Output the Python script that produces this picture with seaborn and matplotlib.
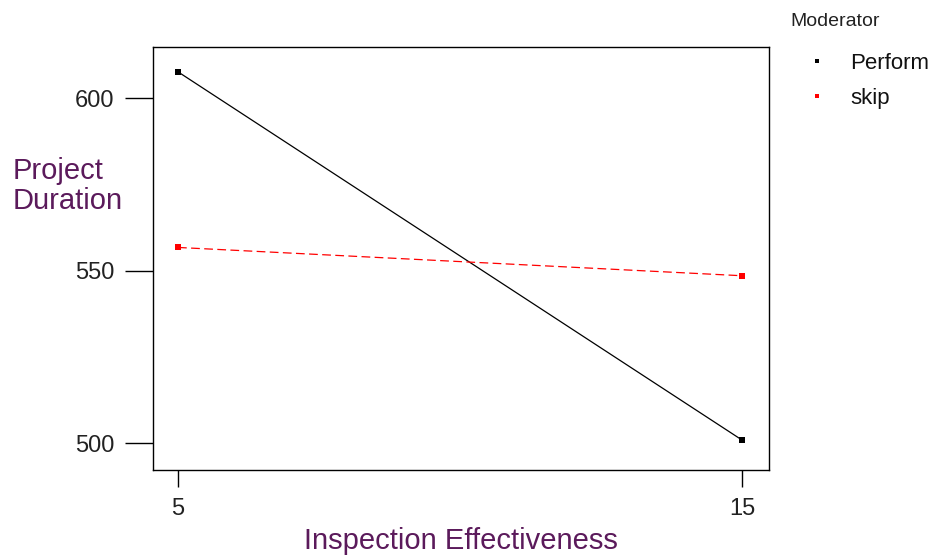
import matplotlib
matplotlib.use("Agg")
import matplotlib.pyplot as plt
import pandas as pd
import seaborn as sns
from matplotlib.lines import Line2D

# ---------------------------------------------------------------------------
# Data
# ---------------------------------------------------------------------------
effectiveness = [5, 15]
perform_duration = [607.7, 501.0]
skip_duration = [556.8, 548.6]
moderators = ["Perform", "skip"]
colors = {"Perform": "black", "skip": "red"}

df = pd.DataFrame({
    "Inspection Effectiveness": effectiveness * 2,
    "Project Duration": perform_duration + skip_duration,
    "Moderator": ["Perform"] * 2 + ["skip"] * 2,
})

sns.set_theme(style="white")
plt.rcParams["font.family"] = ["Liberation Sans", "DejaVu Sans"]

fig = plt.figure(figsize=(9.41, 5.56), dpi=100)
ax = fig.add_axes([0.1626, 0.1547, 0.6546, 0.7608])

sns.lineplot(
    data=df, x="Inspection Effectiveness", y="Project Duration",
    hue="Moderator", style="Moderator", palette=colors,
    dashes={"Perform": "", "skip": (7, 3.5)},
    markers={"Perform": "s", "skip": "s"},
    markersize=4, linewidth=0.9, markeredgewidth=0,
    legend=False, ax=ax,
)

ax.set_xlim(4.557, 15.48)
ax.set_ylim(492.3, 614.9)
ax.set_xticks([5, 15])
ax.set_yticks([500, 550, 600])

for side in ax.spines.values():
    side.set_color("black")
    side.set_linewidth(1.0)

ax.tick_params(axis="x", direction="out", length=12, width=1, color="black",
               labelsize=17, pad=8, bottom=True, labelcolor="#222222")
ax.tick_params(axis="y", direction="out", length=20, width=1, color="black",
               labelsize=17, pad=8, left=True, labelcolor="#222222")

label_color = "#5b1a5b"
ax.set_xlabel("")
ax.set_ylabel("")
fig.text(461 / 941, 1 - 549 / 556, "Inspection Effectiveness", fontsize=21,
         color=label_color, ha="center", va="baseline")
fig.text(13 / 941, 1 - 186 / 556, "Project\nDuration", fontsize=21,
         color=label_color, ha="left", va="center", linespacing=1.05)

# legend title sits apart from the entries, like the original
fig.text(790 / 941, 1 - 22 / 556, "Moderator", fontsize=14, color="#222222",
         ha="left", va="center")

handles = [
    Line2D([], [], linestyle="", marker="s", markersize=3.5,
           markeredgewidth=0, color=colors[m], label=m)
    for m in moderators
]
leg = fig.legend(handles=handles, loc="upper left",
                 bbox_to_anchor=(806 / 941, 1 - 53 / 556), frameon=False,
                 fontsize=16, handlelength=1.0, handletextpad=1.0,
                 labelspacing=0.62, borderaxespad=0, borderpad=0)
for t in leg.get_texts():
    t.set_color("#111111")

fig.savefig("out.png", dpi=100, facecolor="white")
